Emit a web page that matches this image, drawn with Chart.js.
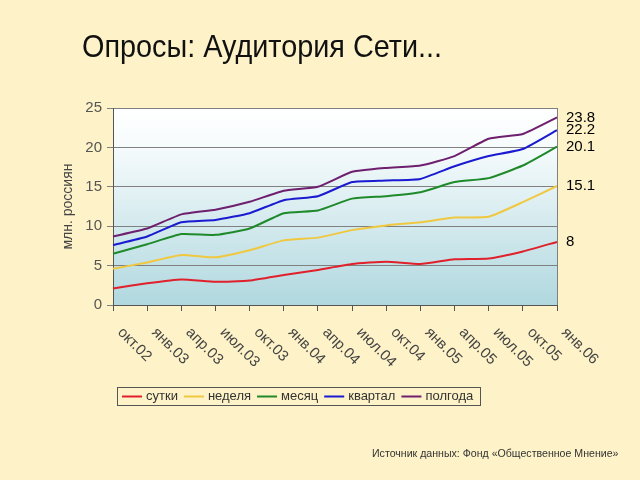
<!DOCTYPE html>
<html>
<head>
<meta charset="utf-8">
<script src="https://cdn.jsdelivr.net/npm/chart.js@4/dist/chart.umd.min.js"></script>
<style>
  html, body { margin: 0; padding: 0; background: #fef2c8; }
  #wrap { position: relative; width: 640px; height: 480px; }
  #title {
    position: absolute; left: 82px; top: 30px;
    font: 32px "Liberation Sans", Arial, sans-serif; line-height: 32px;
    color: #111; white-space: nowrap;
    transform: scaleX(0.9); transform-origin: left top;
  }
  #source {
    position: absolute; left: 372px; top: 447px;
    font: 10.6px "Liberation Sans", Arial, sans-serif; color: #333;
    white-space: nowrap;
  }
</style>
</head>
<body>
<div id="wrap">
  <canvas id="surveyChart" width="640" height="480"></canvas>
  <div id="title">Опросы: Аудитория Сети...</div>
  <div id="source">Источник данных: Фонд «Общественное Мнение»</div>
</div>
<script>
var quarters = ['окт.02', 'янв.03', 'апр.03', 'июл.03', 'окт.03', 'янв.04', 'апр.04',
                'июл.04', 'окт.04', 'янв.05', 'апр.05', 'июл.05', 'окт.05', 'янв.06'];
var seriesNames = ['сутки', 'неделя', 'месяц', 'квартал', 'полгода'];
var sutki   = [2.1, 2.75, 3.25, 2.95, 3.1, 3.8, 4.45, 5.2, 5.5, 5.2, 5.8, 5.9, 6.8, 8];
var nedelya = [4.6, 5.4, 6.35, 6.05, 6.95, 8.2, 8.55, 9.5, 10.1, 10.5, 11.1, 11.2, 13.05, 15.1];
var mesyats = [6.5, 7.7, 9.0, 8.9, 9.7, 11.65, 12.0, 13.5, 13.8, 14.3, 15.6, 16.1, 17.7, 20.1];
var kvartal = [7.6, 8.7, 10.5, 10.8, 11.65, 13.3, 13.8, 15.6, 15.8, 16.0, 17.6, 18.9, 19.8, 22.2];
var polgoda = [8.7, 9.7, 11.5, 12.1, 13.1, 14.5, 15.0, 16.9, 17.4, 17.7, 18.9, 21.1, 21.7, 23.8];
var yTicks = [0, 5, 10, 15, 20, 25];

var colors = ['#e0202a', '#f0c840', '#1f8a2a', '#1a1ad0', '#6e1f6e'];
var allSeries = [sutki, nedelya, mesyats, kvartal, polgoda];

var FONT = '"Liberation Sans", Arial, sans-serif';

// page colour + plot gradient, frame, x labels, end labels, legend box
var decor = {
    id: 'decor',
    beforeDraw: function(chart) {
        var c = chart.ctx, a = chart.chartArea;
        c.save();
        c.fillStyle = '#fef2c8';
        c.fillRect(0, 0, chart.width, chart.height);
        var g = c.createLinearGradient(0, a.top, 0, a.bottom);
        g.addColorStop(0, '#ffffff');
        g.addColorStop(0.2, '#f6fbfc');
        g.addColorStop(1, '#b0d8df');
        c.fillStyle = g;
        c.fillRect(a.left, a.top, a.right - a.left, a.bottom - a.top);
        c.restore();
    },
    afterDraw: function(chart) {
        var c = chart.ctx, a = chart.chartArea;
        var xs = chart.scales.x, ys = chart.scales.y;
        c.save();
        // right frame line
        c.strokeStyle = '#808080';
        c.lineWidth = 1;
        c.beginPath();
        c.moveTo(a.right + 0.5, a.top);
        c.lineTo(a.right + 0.5, a.bottom);
        c.stroke();

        // rotated category labels
        c.fillStyle = '#444';
        c.font = '15px ' + FONT;
        c.textAlign = 'left';
        c.textBaseline = 'alphabetic';
        xs.ticks.forEach(function(t, i) {
            var px = xs.getPixelForTick(i);
            c.save();
            c.translate(px + 4, a.bottom + 28);
            c.rotate(Math.PI / 4);
            c.fillText(quarters[i], 0, 0);
            c.restore();
        });

        // last value labels
        c.fillStyle = '#000';
        c.font = '15px ' + FONT;
        c.textBaseline = 'middle';
        chart.data.datasets.forEach(function(ds) {
            var v = ds.data[ds.data.length - 1];
            c.fillText(String(v), a.right + 9, ys.getPixelForValue(v));
        });

        // legend
        var lx = 117, ly = 387, lw = 363, lh = 18;
        c.fillStyle = '#fef2c8';
        c.fillRect(lx, ly, lw, lh);
        c.strokeStyle = '#555';
        c.strokeRect(lx + 0.5, ly + 0.5, lw, lh);
        c.font = '13px ' + FONT;
        c.textBaseline = 'middle';
        var x = lx + 5, cy = ly + lh / 2 + 0.5;
        chart.data.datasets.forEach(function(ds) {
            c.strokeStyle = ds.borderColor;
            c.lineWidth = 2;
            c.beginPath();
            c.moveTo(x, cy);
            c.lineTo(x + 20, cy);
            c.stroke();
            c.fillStyle = '#333';
            c.fillText(ds.label, x + 24, cy);
            x += 24 + c.measureText(ds.label).width + 6;
        });
        c.restore();
    }
};

var ctx = document.getElementById('surveyChart').getContext('2d');
var chart = new Chart(ctx, {
    type: 'line',
    data: {
        labels: quarters,
        datasets: allSeries.map(function(s, i) {
            return {
                label: seriesNames[i],
                data: s,
                borderColor: colors[i],
                backgroundColor: colors[i],
                borderWidth: 2,
                pointRadius: 0,
                tension: 0.15,
                fill: false
            };
        })
    },
    plugins: [decor],
    options: {
        responsive: false,
        animation: false,
        layout: { padding: { left: 58, right: 83, top: 108, bottom: 169 } },
        plugins: {
            legend: { display: false },
            title: { display: false },
            tooltip: { enabled: false }
        },
        scales: {
            x: {
                offset: false,
                afterFit: function(s) { s.height = 6; },
                grid: { drawOnChartArea: false, drawTicks: true, tickLength: 6, color: '#555' },
                border: { color: '#555' },
                ticks: { display: false }
            },
            y: {
                min: 0, max: 25,
                afterFit: function(s) { s.width = 55; },
                afterBuildTicks: function(s) { s.ticks = yTicks.map(function(v) { return { value: v }; }); },
                grid: { color: '#808080', tickLength: 6 },
                border: { color: '#555' },
                ticks: { color: '#555', padding: 5, font: { size: 15, family: FONT } },
                title: {
                    display: true, text: 'млн. россиян', color: '#444',
                    padding: 2, font: { size: 14, family: FONT }
                }
            }
        }
    }
});
</script>
</body>
</html>
